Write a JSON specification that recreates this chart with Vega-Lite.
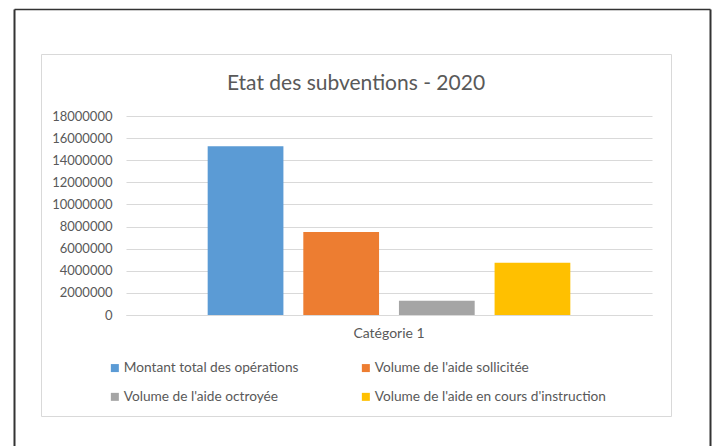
{
  "$schema": "https://vega.github.io/schema/vega-lite/v6.json",
  "width": 630,
  "height": 362,
  "autosize": {"type": "none"},
  "padding": {"left": 41, "top": 54, "right": 44, "bottom": 30},
  "background": "white",
  "title": {
    "text": "Etat des subventions - 2020",
    "font": "Lato",
    "fontSize": 21,
    "fontWeight": "normal",
    "color": "#595959",
    "anchor": "middle",
    "frame": "group",
    "offset": -85
  },
  "data": {
    "values": [
      {"categorie": "Catégorie 1", "serie": "Montant total des opérations", "valeur": 15270000},
      {"categorie": "Catégorie 1", "serie": "Volume de l'aide sollicitée", "valeur": 7500000},
      {"categorie": "Catégorie 1", "serie": "Volume de l'aide octroyée", "valeur": 1300000},
      {"categorie": "Catégorie 1", "serie": "Volume de l'aide en cours d'instruction", "valeur": 4720000}
    ]
  },
  "layer": [
    {
      "mark": {"type": "bar"},
      "encoding": {
        "x": {
          "field": "categorie",
          "type": "nominal",
          "scale": {"range": [85, 611], "paddingInner": 0, "paddingOuter": 0},
          "axis": {
            "orient": "bottom",
            "offset": -101,
            "title": null,
            "ticks": false,
            "domainColor": "#d9d9d9",
            "labelAngle": 0,
            "labelFont": "Lato",
            "labelFontSize": 14,
            "labelColor": "#595959",
            "labelPadding": 11
          }
        },
        "xOffset": {
          "field": "serie",
          "type": "nominal",
          "sort": null,
          "scale": {"paddingInner": 0.208, "paddingOuter": 0.854}
        },
        "y": {
          "field": "valeur",
          "type": "quantitative",
          "scale": {"domain": [0, 18000000], "range": [261, 62], "nice": false},
          "axis": {
            "orient": "left",
            "offset": -85,
            "title": null,
            "domain": false,
            "ticks": false,
            "values": [0, 2000000, 4000000, 6000000, 8000000, 10000000, 12000000, 14000000, 16000000, 18000000],
            "format": "d",
            "labelFont": "Lato",
            "labelFontSize": 13,
            "labelColor": "#595959",
            "labelPadding": 14,
            "grid": true,
            "gridColor": "#d9d9d9",
            "gridWidth": 1
          }
        },
        "color": {
          "field": "serie",
          "type": "nominal",
          "sort": null,
          "scale": {
            "domain": ["Montant total des opérations", "Volume de l'aide sollicitée", "Volume de l'aide octroyée", "Volume de l'aide en cours d'instruction"],
            "range": ["#5B9BD5", "#ED7D31", "#A5A5A5", "#FFC000"]
          },
          "legend": {
            "title": null,
            "orient": "none",
            "legendX": 67,
            "legendY": 307,
            "direction": "horizontal",
            "columns": 2,
            "columnPadding": 60,
            "rowPadding": 14,
            "padding": 0,
            "symbolType": "square",
            "symbolSize": 64,
            "symbolStrokeWidth": 0,
            "symbolOffset": 0,
            "labelOffset": 2,
            "labelFont": "Lato",
            "labelFontSize": 13.7,
            "labelColor": "#595959",
            "labelLimit": 400
          }
        }
      }
    },
    {
      "mark": {"type": "point", "opacity": 0},
      "encoding": {
        "x": {
          "datum": 0,
          "type": "quantitative",
          "scale": {"domain": [0, 1], "range": [-27, 669], "nice": false, "zero": false},
          "axis": {"orient": "top", "offset": 45, "title": null, "labels": false, "ticks": false, "grid": false, "domainColor": "#333333", "domainWidth": 1.5}
        },
        "y": {
          "datum": 0,
          "type": "quantitative",
          "scale": {"domain": [0, 1], "range": [400, -45], "nice": false, "zero": false},
          "axis": {"orient": "left", "offset": 27, "title": null, "labels": false, "ticks": false, "grid": false, "domainColor": "#333333", "domainWidth": 2}
        }
      }
    },
    {
      "mark": {"type": "point", "opacity": 0},
      "encoding": {
        "x": {
          "datum": 0,
          "type": "quantitative",
          "scale": {"domain": [0, 1], "range": [0, 630], "nice": false, "zero": false},
          "axis": null
        },
        "y": {
          "datum": 0,
          "type": "quantitative",
          "scale": {"domain": [0, 1], "range": [400, -45], "nice": false, "zero": false},
          "axis": {"orient": "right", "offset": 39, "title": null, "labels": false, "ticks": false, "grid": false, "domainColor": "#333333", "domainWidth": 2}
        }
      }
    }
  ],
  "resolve": {
    "scale": {"x": "independent", "y": "independent"},
    "axis": {"x": "independent", "y": "independent"}
  },
  "config": {
    "view": {"stroke": "#d9d9d9", "strokeWidth": 1}
  }
}
